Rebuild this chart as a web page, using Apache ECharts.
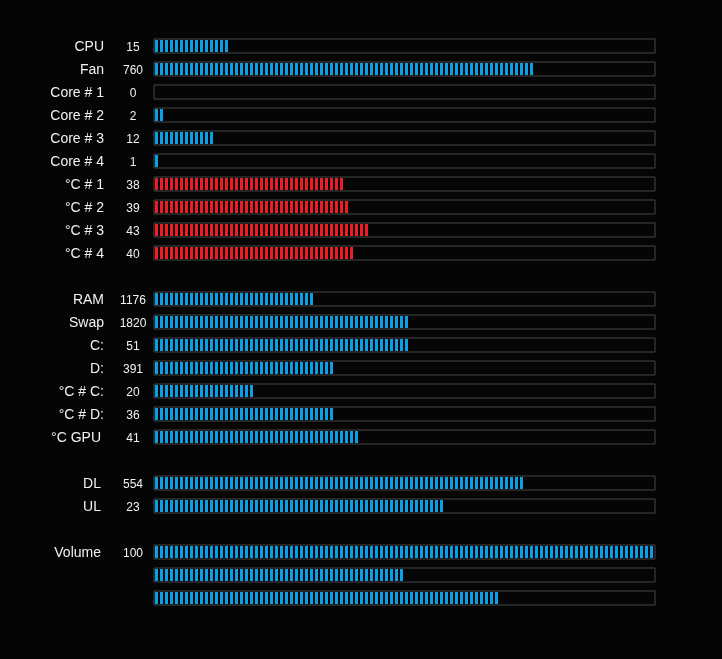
<!DOCTYPE html>
<html><head><meta charset="utf-8">
<script src="https://cdn.jsdelivr.net/npm/echarts@6/dist/echarts.min.js"></script>
<style>html,body{margin:0;padding:0;background:#050505;}#c{width:722px;height:659px;}</style>
</head><body><div id="c"></div>
<script>
// rows (empty strings = spacer rows)
const names = ['CPU','Fan','Core # 1','Core # 2','Core # 3','Core # 4','°C # 1','°C # 2','°C # 3','°C # 4','',
  'RAM','Swap','C:','D:','°C # C:','°C # D:','°C GPU','',
  'DL','UL','',
  'Volume','',''];
const valueLabels = ['15','760','0','2','12','1','38','39','43','40','',
  '1176','1820','51','391','20','36','41','',
  '554','23','',
  '100','',''];
// fill level of each bar, percent of the track
const fillPercent = [15,76,0,2,12,1,38,39,43,40,null,
  32,51,51,36,20,36,41,null,
  74,58,null,
  100,50,69];
const colorKind = ['b','b','b','b','b','b','r','r','r','r',null,
  'b','b','b','b','b','b','b',null,
  'b','b',null,
  'b','b','b'];
const shiftedNames = ['°C GPU','DL','UL','Volume'];

const BLUE = '#0aa0e6', RED = '#ee1c24';
const chart = echarts.init(document.getElementById('c'), null, {renderer:'canvas'});
const idx = names.map((_, i) => String(i));
const gridTop = 34.5, gridH = 575;

const frameData = fillPercent.map(v => v === null ? '-' : 100);
const fillData = fillPercent.map((v, i) => v === null ? '-' : {
  value: v,
  itemStyle: {color: colorKind[i] === 'r' ? RED : BLUE}
});
const font = 'Liberation Sans, Arial, sans-serif';
const txt = {color: '#f2f2f2', fontFamily: font, fontWeight: 'normal'};

chart.setOption({
  backgroundColor: '#050505',
  animation: false,
  grid: [
    {left: 153.5, top: gridTop, width: 502, height: gridH},
    {left: 154, top: gridTop, width: 500, height: gridH}
  ],
  xAxis: [
    {gridIndex: 0, type: 'value', min: 0, max: 100, show: false},
    {gridIndex: 1, type: 'value', min: 0, max: 100, show: false}
  ],
  yAxis: [
    {gridIndex: 0, type: 'category', data: idx, inverse: true,
     axisLine: {show: false}, axisTick: {show: false}, splitLine: {show: false},
     axisLabel: {interval: 0, margin: 49.5, align: 'right', fontWeight: 'normal',
       formatter: (v) => {
         const n = names[+v];
         return shiftedNames.includes(n) ? '{s|' + n + '}' : '{n|' + n + '}';
       },
       rich: {
         n: Object.assign({fontSize: 14, padding: [2, 0, 0, 0]}, txt),
         s: Object.assign({fontSize: 14, padding: [2, 3, 0, 0]}, txt)
       }}},
    {gridIndex: 1, type: 'category', data: idx, inverse: true,
     axisLine: {show: false}, axisTick: {show: false}, splitLine: {show: false},
     axisLabel: {interval: 0, margin: 21, align: 'center', fontWeight: 'normal',
       formatter: (v) => valueLabels[+v] ? '{v|' + valueLabels[+v] + '}' : '',
       rich: {
         v: Object.assign({fontSize: 12, padding: [3, 0, 0, 0]}, txt)
       }}}
  ],
  series: [
    {type: 'bar', xAxisIndex: 0, yAxisIndex: 0, data: frameData, barWidth: 15,
     itemStyle: {color: 'rgba(0,0,0,0)', borderColor: '#474747', borderWidth: 1},
     silent: true},
    {type: 'pictorialBar', xAxisIndex: 1, yAxisIndex: 1, data: fillData,
     symbol: 'rect', symbolRepeat: true, symbolSize: [3, 12], symbolMargin: '1!',
     symbolPosition: 'start', silent: true}
  ]
});
</script></body></html>
